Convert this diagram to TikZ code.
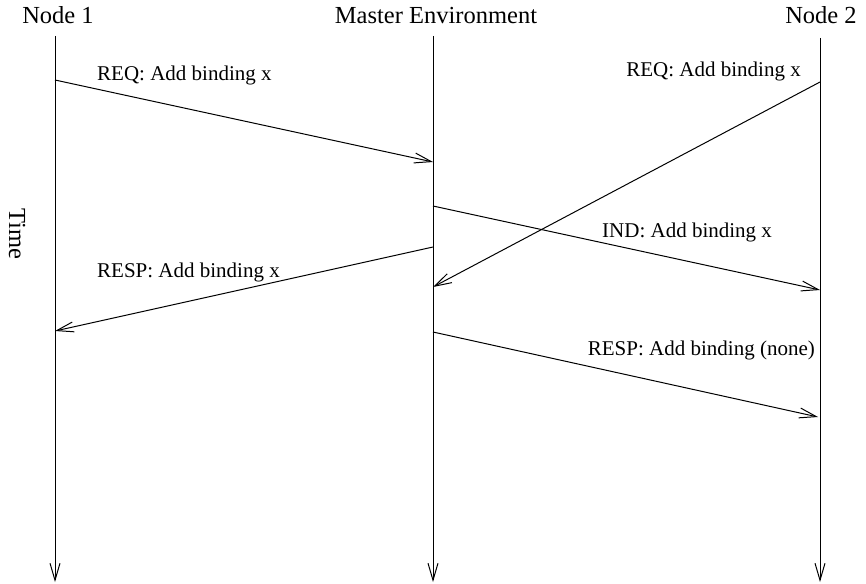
\documentclass[tikz,border=0pt]{standalone}
\usepackage{fontspec}
\setmainfont{Liberation Serif}
\usetikzlibrary{arrows.meta}
\begin{document}
\begin{tikzpicture}[x=1pt,y=-1pt,
  life/.style={line width=1pt,-{Straight Barb[length=17pt,width=10pt]}},
  msg/.style={line width=1pt,-{Straight Barb[length=17pt,width=10pt]}},
  title/.style={font=\fontsize{24.5}{28}\selectfont, inner sep=0pt},
  lbl/.style={font=\fontsize{21}{24}\selectfont, inner sep=0pt}]
\useasboundingbox (0,0) rectangle (866,583);
% titles
\node[title, anchor=base] (n1) at (58,24) {Node 1};
\node[title, anchor=base] (me) at (436,24) {Master Environment};
\node[title, anchor=base] (n2) at (821,24) {Node 2};
\node[title, rotate=-90] (time) at (17,234) {Time};
% lifelines
\coordinate (n1top) at (55,36);
\coordinate (n1bot) at (55,582);
\coordinate (metop) at (433,36);
\coordinate (mebot) at (433,582);
\coordinate (n2top) at (820,38);
\coordinate (n2bot) at (820,582);
\draw[life] (n1top) -- (n1bot);
\draw[life] (metop) -- (mebot);
\draw[life] (n2top) -- (n2bot);
% message end points
\coordinate (a1) at (55,80);   \coordinate (a2) at (433,162);
\coordinate (b1) at (820,82);  \coordinate (b2) at (433,287);
\coordinate (c1) at (433,206); \coordinate (c2) at (820,290);
\coordinate (d1) at (433,247); \coordinate (d2) at (55,331);
\coordinate (e1) at (433,332); \coordinate (e2) at (818,417);
% messages
\draw[msg] (a1) -- (a2);
\draw[msg] (b1) -- (b2);
\draw[msg] (c1) -- (c2);
\draw[msg] (d1) -- (d2);
\draw[msg] (e1) -- (e2);
% labels
\node[lbl, anchor=base west] (la) at (97,81) {REQ: Add binding x};
\node[lbl, anchor=base east] (lb) at (801,77) {REQ: Add binding x};
\node[lbl, anchor=base west] (lc) at (602,237) {IND: Add binding x};
\node[lbl, anchor=base west] (ld) at (97,277) {RESP: Add binding x};
\node[lbl, anchor=base east] (le) at (815,355) {RESP: Add binding (none)};
\end{tikzpicture}
\end{document}
